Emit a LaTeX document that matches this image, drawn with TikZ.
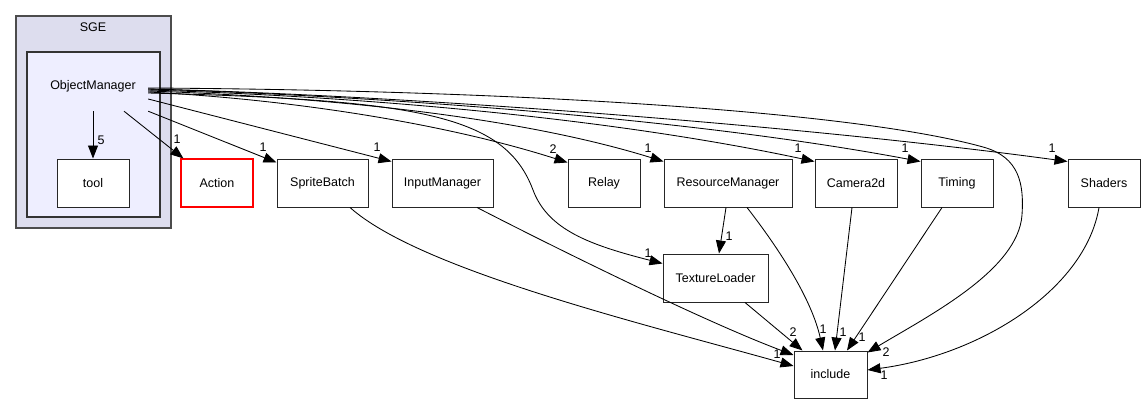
\documentclass[tikz,border=0pt]{standalone}
\usepackage{fontspec}
\setmainfont{Liberation Sans}
\usepackage{xcolor}
\usetikzlibrary{arrows.meta}

\definecolor{sgefill}{HTML}{DDDDEE}
\definecolor{omfill}{HTML}{EEEEFF}

\tikzset{
  dirbox/.style={draw=black!85, line width=1pt, fill=white, minimum height=48pt,
    inner sep=0pt, font=\fontsize{12.5}{14}\selectfont},
  missbox/.style={draw=red, line width=1.2pt, fill=white, minimum height=48pt,
    inner sep=0pt, font=\fontsize{12.5}{14}\selectfont},
  dep/.style={line width=0.85pt, -{Triangle[length=13pt, width=10pt]}},
  elabel/.style={inner sep=0pt, font=\fontsize{12.5}{14}\selectfont}
}

\begin{document}
\begin{tikzpicture}[x=1pt, y=-1pt]
  \useasboundingbox (0,0) rectangle (1145,404);

  % Clusters
  \node[draw=black!70, line width=1.3pt, fill=sgefill, minimum width=155pt,
    minimum height=212pt] (sge) at (93.5,122) {};
  \node[draw=black!80, line width=1.1pt, fill=omfill, minimum width=133pt,
    minimum height=165pt] (omcluster) at (93.5,134.5) {};
  \node[elabel] (sgelabel) at (93,27.5) {SGE};
  \node[minimum width=110pt, minimum height=50pt, inner sep=0pt,
    font=\fontsize{12.5}{14}\selectfont] (objmgr) at (93,86) {ObjectManager};

  % Top row
  \node[dirbox, minimum width=72pt] (tool) at (93,183) {tool};
  \node[missbox, minimum width=72pt] (actiondir) at (217,183) {Action};
  \node[dirbox, minimum width=91pt] (spritebatch) at (322.5,183) {SpriteBatch};
  \node[dirbox, minimum width=101pt] (inputmgr) at (442.5,183) {InputManager};
  \node[dirbox, minimum width=72pt] (relay) at (604,183) {Relay};
  \node[dirbox, minimum width=128pt] (resmgr) at (728,183) {ResourceManager};
  \node[dirbox, minimum width=82pt] (camera) at (856,183) {Camera2d};
  \node[dirbox, minimum width=72pt] (timing) at (957,183) {Timing};
  \node[dirbox, minimum width=72pt] (shaders) at (1104,183) {Shaders};
  % Lower rows
  \node[dirbox, minimum width=105pt] (texloader) at (715.5,278) {TextureLoader};
  \node[dirbox, minimum width=73pt, minimum height=47pt] (include) at (830.5,374.5) {include};

  % ObjectManager dependencies
  \draw[dep] (objmgr.south) -- (tool.north);
  \draw[dep] (objmgr.south east) -- ([yshift=-4pt]spritebatch.north west);
  \draw[dep] ([yshift=-13pt]objmgr.east) -- ([yshift=-3pt]inputmgr.north west);
  \draw[dep] ([yshift=-6pt]objmgr.east) .. controls (300,100) and (450,125)
    .. ([yshift=-4pt]relay.north west);
  \draw[dep] ([yshift=-5pt]objmgr.east) .. controls (350,98) and (530,120)
    .. ([yshift=-3pt]resmgr.north west);
  \draw[dep] ([yshift=-4pt]objmgr.east) .. controls (380,97) and (620,120)
    .. ([yshift=-3pt]camera.north west);
  \draw[dep] ([yshift=-3pt]objmgr.east) .. controls (400,97) and (700,120)
    .. ([yshift=-3pt]timing.north west);
  \draw[dep] ([yshift=-3pt]objmgr.east) .. controls (400,95) and (800,125)
    .. ([yshift=-3pt]shaders.north west);
  \draw[dep] ([yshift=-7pt]objmgr.east) .. controls (420,100) and (505,115)
    .. (533,190) .. controls (548,230) and (590,245)
    .. ([yshift=-10pt]texloader.north west);
  \draw[dep] ([yshift=-2pt]objmgr.east) .. controls (500,90) and (850,110)
    .. (983,147) .. controls (1020,157) and (1024,185)
    .. (1022,215) .. controls (1018,270) and (930,315)
    .. ([yshift=-2pt]include.north east);
  \draw[dep] ([xshift=31pt]objmgr.south) -- ([xshift=3pt]actiondir.north west);

  % Dependencies on include
  \draw[dep] ([xshift=27.5pt]spritebatch.south) .. controls (420,270) and (644,324)
    .. ([yshift=8.5pt]include.west);
  \draw[dep] ([xshift=34.5pt]inputmgr.south) .. controls (540,240) and (700,320)
    .. ([yshift=19.5pt]include.west);
  \draw[dep] ([xshift=-2pt]resmgr.south) -- ([xshift=3.5pt]texloader.north);
  \draw[dep] ([xshift=19pt]resmgr.south) .. controls (780,250) and (812,300)
    .. ([xshift=-7.5pt]include.north);
  \draw[dep] ([xshift=29.5pt]texloader.south) -- ([xshift=9pt]include.north west);
  \draw[dep] ([xshift=-4pt]camera.south) -- ([xshift=4.5pt]include.north);
  \draw[dep] ([xshift=-15pt]timing.south) -- ([xshift=16.5pt]include.north);
  \draw[dep] ([xshift=-5pt]shaders.south) .. controls (1085,290) and (980,355)
    .. ([yshift=4.5pt]include.east);

  % Edge counts
  \node[elabel] (n-tool) at (101,140) {5};
  \node[elabel] (n-action) at (177,139) {1};
  \node[elabel] (n-sprite) at (263,147) {1};
  \node[elabel] (n-input) at (377,147) {1};
  \node[elabel] (n-relay) at (553,149) {2};
  \node[elabel] (n-resmgr) at (648,148) {1};
  \node[elabel] (n-camera) at (798,148) {1};
  \node[elabel] (n-timing) at (905,148) {1};
  \node[elabel] (n-shaders) at (1052,148) {1};
  \node[elabel] (n-texloader) at (648,253) {1};
  \node[elabel] (n-restex) at (729,236) {1};
  \node[elabel] (n-inc-tex) at (793,332) {2};
  \node[elabel] (n-inc-res) at (823,329) {1};
  \node[elabel] (n-inc-cam) at (843,332) {1};
  \node[elabel] (n-inc-tim) at (862,337) {1};
  \node[elabel] (n-inc-om) at (886,352) {2};
  \node[elabel] (n-inc-sha) at (884,375) {1};
  \node[elabel] (n-inc-spr) at (777,354) {1};
\end{tikzpicture}
\end{document}
